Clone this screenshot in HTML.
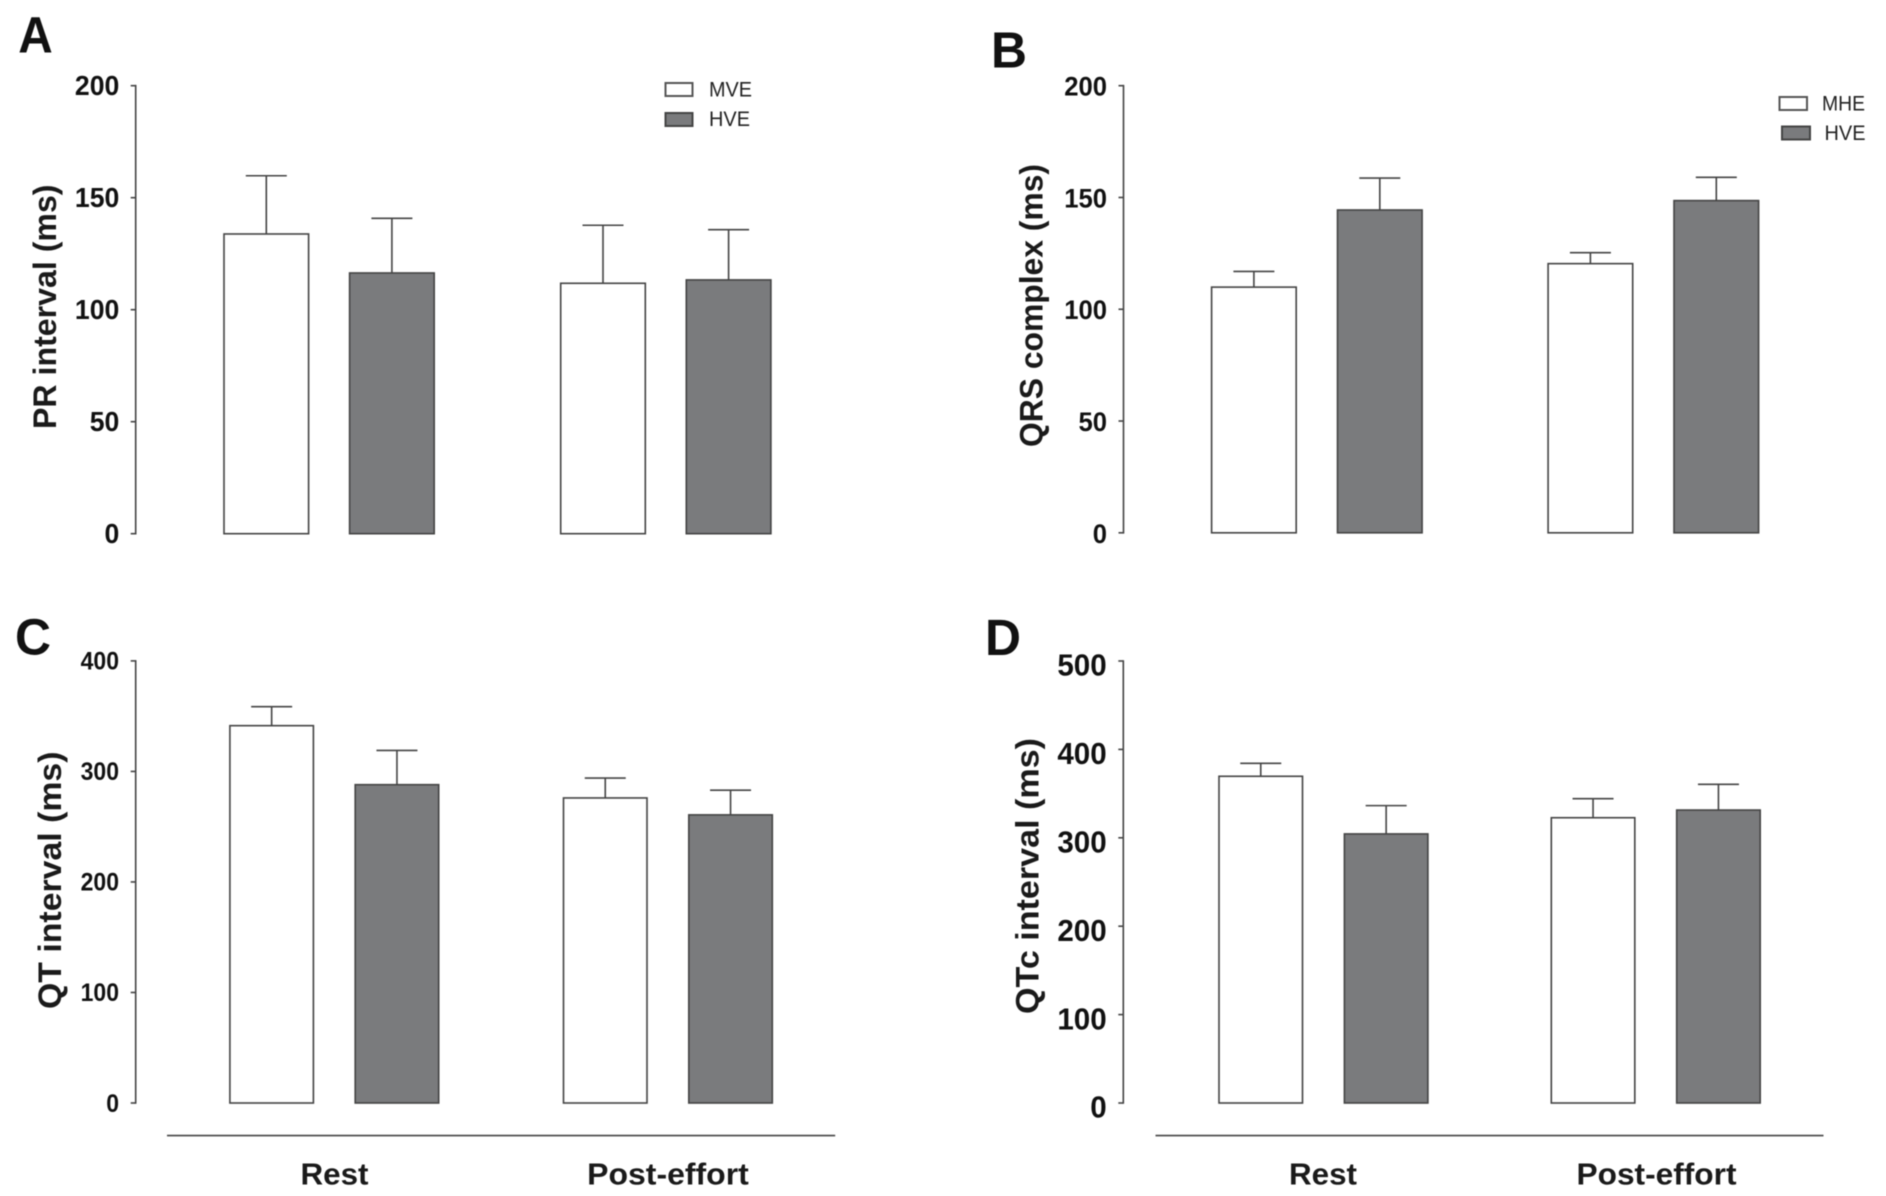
<!DOCTYPE html>
<html lang="en">
<head>
<meta charset="utf-8">
<title>ECG intervals at rest and post-effort</title>
<style>
html,body{margin:0;padding:0;background:#fff;}
svg{display:block;font-family:"Liberation Sans",Arial,sans-serif;filter:blur(0.5px);}
.panel-letter{font-weight:700;font-size:51px;fill:#111;}
.axis-title{font-weight:700;font-size:32px;fill:#1a1a1a;}
.group-label{font-weight:700;font-size:31px;fill:#1a1a1a;}
.legend-text{font-size:21px;fill:#222;}
</style>
</head>
<body>
<svg id="figure" xmlns="http://www.w3.org/2000/svg" width="1886" height="1196" viewBox="0 0 1886 1196">
  <rect x="0" y="0" width="1886" height="1196" fill="#fff"/>

  <text class="panel-letter" x="18.3" y="52.7" textLength="34.5" lengthAdjust="spacingAndGlyphs">A</text>
  <text class="panel-letter" x="991" y="67.5" textLength="36" lengthAdjust="spacingAndGlyphs">B</text>
  <text class="panel-letter" x="15" y="654.5" textLength="36" lengthAdjust="spacingAndGlyphs">C</text>
  <text class="panel-letter" x="985" y="655" textLength="36" lengthAdjust="spacingAndGlyphs">D</text>

  <text class="axis-title" transform="translate(56 429) rotate(-90)" textLength="244.5" lengthAdjust="spacingAndGlyphs">PR interval (ms)</text>
  <text class="axis-title" transform="translate(1042.3 447) rotate(-90)" textLength="283" lengthAdjust="spacingAndGlyphs">QRS complex (ms)</text>
  <text class="axis-title" transform="translate(61 1009) rotate(-90)" textLength="257.5" lengthAdjust="spacingAndGlyphs">QT interval (ms)</text>
  <text class="axis-title" transform="translate(1038.5 1014) rotate(-90)" textLength="276" lengthAdjust="spacingAndGlyphs">QTc interval (ms)</text>

  <g>
    <rect x="665.5" y="83" width="27" height="13" fill="#fff" stroke="#555" stroke-width="2"/>
    <text class="legend-text" x="709" y="96.7" textLength="43" lengthAdjust="spacingAndGlyphs">MVE</text>
    <rect x="665.5" y="113" width="27" height="13" fill="#7a7b7d" stroke="#444" stroke-width="2"/>
    <text class="legend-text" x="709" y="126" textLength="41" lengthAdjust="spacingAndGlyphs">HVE</text>
  </g>
  <g>
    <rect x="1779.5" y="97" width="27.5" height="13" fill="#fff" stroke="#555" stroke-width="2"/>
    <text class="legend-text" x="1822" y="110.5" textLength="43" lengthAdjust="spacingAndGlyphs">MHE</text>
    <rect x="1782" y="126.5" width="28" height="13" fill="#7a7b7d" stroke="#444" stroke-width="2"/>
    <text class="legend-text" x="1824.5" y="140" textLength="41" lengthAdjust="spacingAndGlyphs">HVE</text>
  </g>

  <line x1="167" y1="1135.6" x2="835.2" y2="1135.6" stroke="#444" stroke-width="1.6"/>
  <line x1="1155.5" y1="1135.6" x2="1823.5" y2="1135.6" stroke="#444" stroke-width="1.6"/>
  <text class="group-label" x="334.5" y="1184.3" text-anchor="middle" textLength="68" lengthAdjust="spacingAndGlyphs">Rest</text>
  <text class="group-label" x="668" y="1184.3" text-anchor="middle" textLength="161.6" lengthAdjust="spacingAndGlyphs">Post-effort</text>
  <text class="group-label" x="1323" y="1184.3" text-anchor="middle" textLength="68" lengthAdjust="spacingAndGlyphs">Rest</text>
  <text class="group-label" x="1656.5" y="1184.3" text-anchor="middle" textLength="160" lengthAdjust="spacingAndGlyphs">Post-effort</text>

  <g id="panel-a"></g>
  <g id="panel-b"></g>
  <g id="panel-c"></g>
  <g id="panel-d"></g>
</svg>

<script>
// Conditions (order of bars within each panel: low group then high group, per condition)
const categories = ['Rest', 'Post-effort'];
const seriesNames = ['moderate', 'high'];

// Panel A – PR interval
const prTicks = [0, 50, 100, 150, 200];
const prModerate = [133.8, 111.8];
const prModerateTop = [159.8, 137.7];
const prHigh = [116.4, 113.3];
const prHighTop = [140.8, 135.7];

// Panel B – QRS complex
const qrsTicks = [0, 50, 100, 150, 200];
const qrsModerate = [109.9, 120.4];
const qrsModerateTop = [116.9, 125.3];
const qrsHigh = [144.4, 148.6];
const qrsHighTop = [158.7, 159];

// Panel C – QT interval
const qtTicks = [0, 100, 200, 300, 400];
const qtModerate = [341.4, 276];
const qtModerateTop = [358.6, 294];
const qtHigh = [288, 260.7];
const qtHighTop = [319, 283];

// Panel D – QTc interval
const qtcTicks = [0, 100, 200, 300, 400, 500];
const qtcModerate = [369.6, 322.7];
const qtcModerateTop = [384.3, 344.2];
const qtcHigh = [304.4, 331.4];
const qtcHighTop = [336.4, 360.5];

const SVG_NS = 'http://www.w3.org/2000/svg';
const INK = '#444';

function make(parent, tag, attrs) {
  const el = document.createElementNS(SVG_NS, tag);
  for (const k in attrs) el.setAttribute(k, attrs[k]);
  parent.appendChild(el);
  return el;
}

function drawPanel(cfg) {
  const root = document.getElementById(cfg.id);
  const yMax = cfg.ticks[cfg.ticks.length - 1];
  const yScale = v => cfg.y0 + (cfg.yTop - cfg.y0) * v / yMax;
  const xScale = (g, s) => cfg.left + g * cfg.groupStep + s * cfg.barStep;

  const axis = make(root, 'line', { x1: cfg.axisX, x2: cfg.axisX, y1: yScale(yMax) - 0.8, y2: yScale(0) + 0.8, stroke: INK, 'stroke-width': 1.6 });
  
  

  cfg.ticks.forEach(t => {
    const tick = make(root, 'line', { x1: cfg.axisX - 5, x2: cfg.axisX, y1: yScale(t), y2: yScale(t), stroke: INK, 'stroke-width': 1.6 });
    
    
    const str = String(t);
    const label = make(root, 'text', {
      x: cfg.labelX,
      y: yScale(t) + cfg.fontSize * 0.35 + cfg.labelDy,
      'text-anchor': 'end',
      'font-size': cfg.fontSize,
      'font-weight': 700,
      fill: '#111',
      textLength: str.length * 0.556 * cfg.fontSize * cfg.squeeze,
      lengthAdjust: 'spacingAndGlyphs'
    });
    
    
    label.textContent = str;
  });

  cfg.series.forEach((series, s) => {
    categories.forEach((cat, g) => {
      const x = xScale(g, s);
      const cx = x + cfg.barW / 2;
      const top = yScale(series.values[g]);
      const errTop = yScale(series.tops[g]);

      const stem = make(root, 'line', { x1: cx, x2: cx, y1: top, y2: errTop, stroke: INK, 'stroke-width': 1.6 });
      
      

      const cap = make(root, 'line', { x1: cx - 20.5, x2: cx + 20.5, y1: errTop, y2: errTop, stroke: INK, 'stroke-width': 1.6 });
      
      

      const bar = make(root, 'rect', {
        x: x, y: top, width: cfg.barW, height: yScale(0) - top,
        fill: series.fill, stroke: INK, 'stroke-width': 1.6
      });
      
      
    });
  });
}

const WHITE = '#ffffff';
const GREY = '#7a7b7d';

drawPanel({
  id: 'panel-a', ticks: prTicks, axisX: 135.7, yTop: 85.7, y0: 533.7,
  left: 224, barW: 84.6, barStep: 125.6, groupStep: 336.7,
  labelX: 119.3, fontSize: 28, squeeze: 0.95, labelDy: -0.3,
  series: [{ values: prModerate, tops: prModerateTop, fill: WHITE }, { values: prHigh, tops: prHighTop, fill: GREY }]
});
drawPanel({
  id: 'panel-b', ticks: qrsTicks, axisX: 1123.5, yTop: 85.7, y0: 532.8,
  left: 1211.6, barW: 84.6, barStep: 125.9, groupStep: 336.5,
  labelX: 1107, fontSize: 27, squeeze: 0.95, labelDy: 0.5,
  series: [{ values: qrsModerate, tops: qrsModerateTop, fill: WHITE }, { values: qrsHigh, tops: qrsHighTop, fill: GREY }]
});
drawPanel({
  id: 'panel-c', ticks: qtTicks, axisX: 135.7, yTop: 660.9, y0: 1103,
  left: 229.9, barW: 83.5, barStep: 125.3, groupStep: 333.6,
  labelX: 119, fontSize: 25, squeeze: 0.92, labelDy: 0,
  series: [{ values: qtModerate, tops: qtModerateTop, fill: WHITE }, { values: qtHigh, tops: qtHighTop, fill: GREY }]
});
drawPanel({
  id: 'panel-d', ticks: qtcTicks, axisX: 1123.3, yTop: 661, y0: 1103,
  left: 1219, barW: 83.5, barStep: 125.4, groupStep: 332.3,
  labelX: 1106.7, fontSize: 30.5, squeeze: 0.97, labelDy: 4,
  series: [{ values: qtcModerate, tops: qtcModerateTop, fill: WHITE }, { values: qtcHigh, tops: qtcHighTop, fill: GREY }]
});
</script>
</body>
</html>
